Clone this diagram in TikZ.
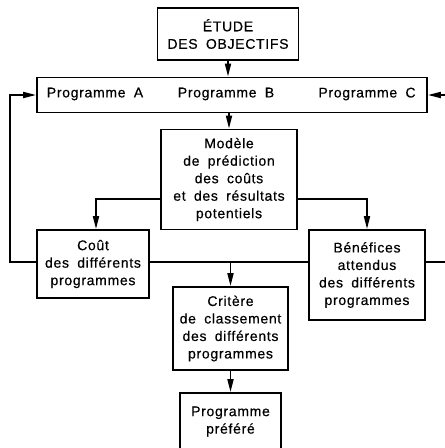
\documentclass[tikz,border=0pt]{standalone}
\usepackage{fontspec}
\setmainfont{Liberation Sans}[LetterSpace=5,WordSpace=1.8,FakeBold=0.5]
\usetikzlibrary{arrows.meta,positioning}
\tikzset{
	box/.style={draw, line width=1.8pt, align=center, inner sep=0pt,
		font=\fontsize{14}{17.5}\selectfont},
	lab/.style={font=\fontsize{14}{17.5}\selectfont, inner sep=0pt},
	arr/.style={-{Triangle[length=13pt,width=6pt]}, line width=1.8pt},
	lin/.style={line width=1.8pt}
}

\begin{document}
\begin{tikzpicture}[x=1pt, y=1pt]
		\useasboundingbox (0,0) rectangle (445,-448);
		% boxes
		\node[box, minimum width=141pt, minimum height=52pt] (etude) at (228,-34) {ÉTUDE\\DES OBJECTIFS};
		\node[box, minimum width=390pt, minimum height=35pt] (prog) at (232,-95) {};
		\node[lab] (progA) at (95,-94) {Programme A};
		\node[lab] (progB) at (226,-94) {Programme B};
		\node[lab] (progC) at (367,-94) {Programme C};
		\node[box, minimum width=136pt, minimum height=100pt] (modele) at (229,-179.5) {Modèle\\de prédiction\\des coûts\\et des résultats\\potentiels};
		\node[box, minimum width=112pt, minimum height=68pt] (cout) at (93,-264) {Coût\\des différents\\programmes};
		\node[box, minimum width=116pt, minimum height=90pt] (benef) at (367,-275) {Bénéfices\\attendus\\des différents\\programmes};
		\node[box, minimum width=115pt, minimum height=83pt] (critere) at (230.5,-328.5) {Critère\\de classement\\des différents\\programmes};
		\node[box, minimum width=101pt, minimum height=57pt] (pref) at (230.5,-421.5) {Programme\\préféré};
		\coordinate (leftback) at (10,0);
		\coordinate (rightback) at (446,0);
		% connectors
		\draw[arr] (etude.south) -- (etude.south |- prog.north);
		\draw[arr] (modele.north |- prog.south) -- (modele.north);
		\draw[arr] (modele.west |- 0,-199) -| ([xshift=3pt]cout.north);
		\draw[arr] (modele.east |- 0,-199) -| (benef.north);
		\draw[lin] (cout.east |- 0,-262) -- (benef.west |- 0,-262);
		\draw[arr] (critere.north |- 0,-262) -- (critere.north);
		\draw[arr] (critere.south) -- (pref.north);
		% feedback
		\draw[arr] (cout.west |- 0,-262) -- (leftback |- 0,-262) |- (prog.west);
		\draw[arr] (benef.east |- 0,-262) -- (rightback |- 0,-262) |- (prog.east);
	\end{tikzpicture}
\end{document}
